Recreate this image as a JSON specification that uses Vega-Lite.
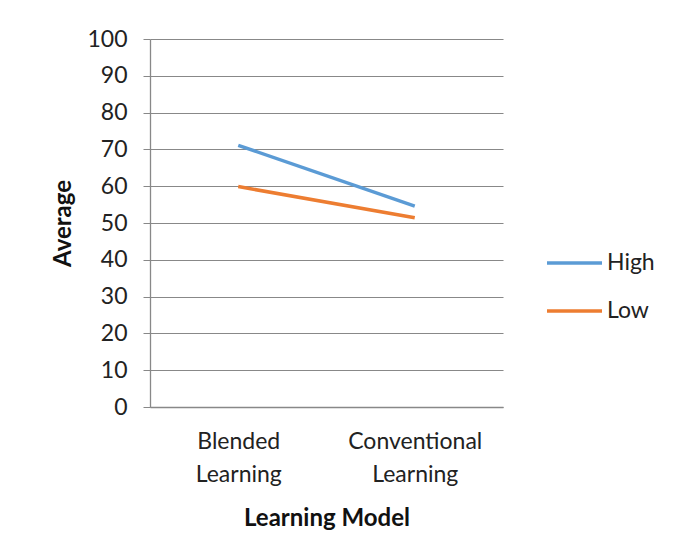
{
  "$schema": "https://vega.github.io/schema/vega-lite/v6.json",
  "width": 353,
  "height": 368,
  "autosize": {"type": "none"},
  "padding": {"left": 150, "top": 39, "right": 178, "bottom": 151},
  "background": "white",
  "data": {"values": [
    {"model": "Blended Learning", "group": "High", "average": 71.1},
    {"model": "Conventional Learning", "group": "High", "average": 54.6},
    {"model": "Blended Learning", "group": "Low", "average": 59.9},
    {"model": "Conventional Learning", "group": "Low", "average": 51.4}
  ]},
  "mark": {"type": "line", "strokeWidth": 3.5},
  "encoding": {
    "x": {
      "field": "model", "type": "nominal",
      "sort": ["Blended Learning", "Conventional Learning"],
      "scale": {"type": "point", "padding": 0.5},
      "title": "Learning Model",
      "axis": {
        "labelAngle": 0,
        "labelExpr": "split(datum.label, ' ')",
        "labelLineHeight": 33,
        "labelPadding": 23,
        "ticks": false,
        "grid": false,
        "titlePadding": 20
      }
    },
    "y": {
      "field": "average", "type": "quantitative",
      "scale": {"domain": [0, 100], "nice": false},
      "title": "Average",
      "axis": {
        "values": [0, 10, 20, 30, 40, 50, 60, 70, 80, 90, 100],
        "tickSize": 7,
        "labelPadding": 16,
        "titlePadding": 11
      }
    },
    "color": {
      "field": "group", "type": "nominal",
      "scale": {"domain": ["High", "Low"], "range": ["#5B9BD5", "#ED7D31"]},
      "legend": {
        "title": null,
        "orient": "none",
        "legendX": 395,
        "legendY": 212,
        "symbolType": "stroke",
        "symbolSize": 3025,
        "symbolStrokeWidth": 3.5,
        "clipHeight": 24,
        "rowPadding": 24,
        "labelOffset": 3,
        "labelFontSize": 23,
        "labelColor": "#222222",
        "labelFont": "Lato"
      }
    }
  },
  "config": {
    "view": {"stroke": null},
    "axis": {
      "labelFont": "Lato",
      "labelFontSize": 23,
      "labelColor": "#222222",
      "titleFont": "Lato",
      "titleFontSize": 24,
      "titleFontWeight": "bold",
      "titleColor": "#111111",
      "domainColor": "#888888",
      "tickColor": "#888888",
      "gridColor": "#888888",
      "domainWidth": 1.3,
      "gridWidth": 1.2
    }
  }
}
